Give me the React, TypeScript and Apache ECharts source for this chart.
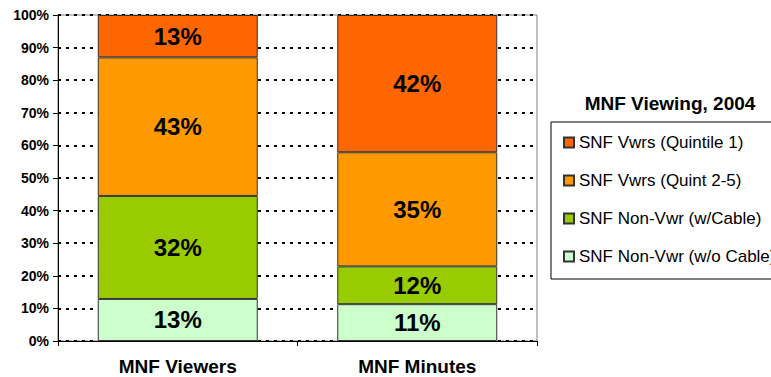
import React, { useEffect, useRef } from "react";
import * as echarts from "echarts";

const categories = ["MNF Viewers", "MNF Minutes"];
const seriesNames = [
  "SNF Non-Vwr (w/o Cable)",
  "SNF Non-Vwr (w/Cable)",
  "SNF Vwrs (Quint 2-5)",
  "SNF Vwrs (Quintile 1)",
];
const noCable = [12.9, 11.3];
const withCable = [31.6, 11.6];
const quint25 = [42.5, 35.0];
const quint1 = [13.0, 42.1];
const colors = ["#CCFFCC", "#99CC00", "#FF9900", "#FF6600"];
const legendOrder = [
  "SNF Vwrs (Quintile 1)",
  "SNF Vwrs (Quint 2-5)",
  "SNF Non-Vwr (w/Cable)",
  "SNF Non-Vwr (w/o Cable)",
];
const legendTitle = "MNF Viewing, 2004";

const FONT = "'Liberation Sans', Arial, sans-serif";

export default function App() {
  const ref = useRef<HTMLDivElement>(null);
  useEffect(() => {
    if (!ref.current) return;
    const chart = echarts.init(ref.current, undefined, { renderer: "svg" });
    const values = [noCable, withCable, quint25, quint1];
    chart.setOption({
      animation: false,
      backgroundColor: "#ffffff",
      textStyle: { fontFamily: FONT },
      grid: {
        left: 58,
        right: 234,
        top: 15,
        bottom: 36,
        show: true,
        borderColor: "#808080",
        borderWidth: 1,
      },
      graphic: [
        {
          type: "text",
          x: 670,
          y: 103,
          style: {
            text: legendTitle,
            fontFamily: FONT,
            fontWeight: "bold",
            fontSize: 19,
            fill: "#000",
            textAlign: "center",
            textVerticalAlign: "middle",
          },
        },
      ],
      legend: {
        data: legendOrder,
        orient: "vertical",
        left: 551,
        top: 122,
        padding: [12, 30, 14, 12],
        itemGap: 21,
        itemWidth: 10,
        itemHeight: 10,
        icon: "rect",
        borderColor: "#000",
        borderWidth: 1,
        borderRadius: 0,
        textStyle: { fontFamily: FONT, fontSize: 17, color: "#000" },
      },
      xAxis: {
        type: "category",
        data: categories,
        axisLine: { lineStyle: { color: "#000", width: 1 } },
        axisTick: { show: true, length: 5, lineStyle: { color: "#000" } },
        axisLabel: {
          fontFamily: FONT,
          fontWeight: "bold",
          fontSize: 19,
          color: "#000",
          margin: 16,
        },
      },
      yAxis: {
        type: "value",
        min: 0,
        max: 100,
        interval: 10,
        axisLine: { show: true, lineStyle: { color: "#000", width: 1 } },
        axisTick: { show: true, length: 5, lineStyle: { color: "#000" } },
        axisLabel: {
          formatter: "{value}%",
          fontFamily: FONT,
          fontWeight: "bold",
          fontSize: 14,
          color: "#000",
          margin: 9,
        },
        splitLine: {
          show: true,
          lineStyle: { color: "#000", width: 2, type: [3, 5] },
        },
      },
      series: seriesNames.map((name, i) => ({
        name,
        type: "bar",
        stack: "total",
        barWidth: 160,
        data: values[i],
        itemStyle: { color: colors[i], borderColor: "#333", borderWidth: 1 },
        label: {
          show: true,
          position: "inside",
          formatter: (p: any) => Math.round(p.value) + "%",
          fontFamily: FONT,
          fontWeight: "bold",
          fontSize: 24,
          color: "#000",
        },
      })),
    });
    return () => chart.dispose();
  }, []);
  return (
    <div
      ref={ref}
      style={{ position: "fixed", left: 0, top: 0, width: 771, height: 377 }}
    />
  );
}
